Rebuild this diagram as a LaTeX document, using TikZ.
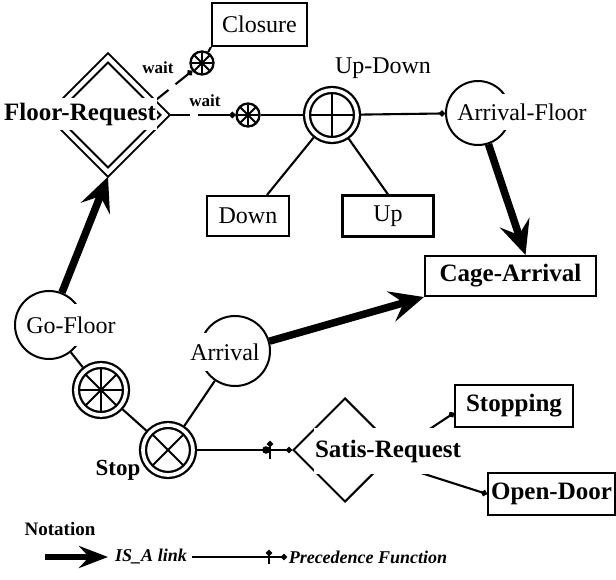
\documentclass[tikz,border=0pt]{standalone}
\usepackage{fontspec}
\setmainfont{Liberation Serif}
\usetikzlibrary{arrows.meta,shapes.geometric,calc,decorations.markings}
\newcommand\dgReg{\fontsize{24}{28}\selectfont}
\newcommand\dgBold{\fontsize{25}{29}\selectfont\bfseries}
\newcommand\dgWait{\fontsize{17}{20}\selectfont\bfseries}
\newcommand\dgLeg{\fontsize{18}{21}\selectfont\bfseries\itshape}
\begin{document}
\begin{tikzpicture}[x=1pt,y=-1pt]
\tikzset{
  every node/.style={font=\dgReg},
  box/.style={draw, line width=2.1pt, inner sep=0pt},
  dblc/.style={circle, draw, line width=2.3pt, double, double distance=3.7pt, minimum size=50pt, inner sep=0pt, outer sep=4pt},
  ring/.style={circle, draw, line width=2pt, inner sep=0pt},
  txtbg/.style={fill=white, inner xsep=2pt},
  conn/.style={line width=2.1pt},
  dot/.style={conn, -{Circle[length=6pt]}},
  isa/.style={line width=7.5pt, -{Stealth[length=34pt,width=31pt,inset=13pt]}},
  prec/.style={dot, postaction={decorate}, decoration={markings,
      mark=at position -18pt with {\draw[line width=2.1pt] (0,-7pt) -- (0,7pt);}}},
  precmain/.style={dot, postaction={decorate}, decoration={markings,
      mark=at position -26pt with {\fill (0,0) circle (3.8pt);},
      mark=at position -22pt with {\draw[line width=2.1pt] (0,-9pt) -- (0,9pt);}}},
  waitsym/.style={circle, draw, line width=2.3pt, minimum size=23pt, inner sep=0pt},
  spoke/.style={line width=2pt},
}
\useasboundingbox (0,0) rectangle (616,580);

% ---- nodes ----
\node[box, minimum width=95pt, minimum height=43pt] (CL) at (259.5,24.5) {Closure};
\node[diamond, draw, line width=2pt, double, double distance=4.4pt,
      minimum width=117pt, minimum height=117pt, inner sep=0pt, outer sep=3.2pt] (FR) at (108,115) {};
\node[waitsym] (W1) at (202,63) {};
\node[waitsym] (W2) at (248,115) {};
\node[dblc] (UD) at (332,115) {};
\node (UDl) at (383,68) {Up-Down};
\node[ring, minimum size=64pt] (AF) at (478,113) {};
\node[box, minimum width=82pt, minimum height=40pt] (DN) at (248,216) {Down};
\node[box, minimum width=91pt, minimum height=41pt] (UP) at (388,216) {Up};
\node[box, minimum width=171pt, minimum height=40pt, font=\dgBold] (CA) at (510.5,276) {Cage-Arrival};
\node[ring, minimum size=68pt] (GF) at (49,325) {};
\node[dblc] (WH) at (101,390) {};
\node[dblc] (ST) at (168,450) {};
\node[font=\fontsize{23}{27}\selectfont\bfseries] (STl) at (118,470) {Stop};
\node[ring, minimum size=70pt] (AR) at (235,351) {};
\node[diamond, draw, line width=2pt, minimum width=104pt, minimum height=104pt, inner sep=0pt] (SR) at (345,450) {};
\node[box, minimum width=118pt, minimum height=42pt, font=\dgBold] (STP) at (514,406) {Stopping};
\node[box, minimum width=127pt, minimum height=42pt, font=\dgBold] (OD) at (551.5,494) {Open-Door};

% ---- symbols inside the special nodes ----
\foreach \a in {0,90} \draw[spoke] (UD.center) ++(\a:21) -- ++(\a+180:42);
\foreach \a in {45,135} \draw[spoke] (ST.center) ++(\a:21) -- ++(\a+180:42);
\foreach \a in {0,45,90,135} \draw[spoke] (WH.center) ++(\a:21) -- ++(\a+180:42);
\foreach \a in {0,45,90,135} {
  \draw[spoke] (W1.center) ++(\a:10.3) -- ++(\a+180:20.6);
  \draw[spoke] (W2.center) ++(\a:10.3) -- ++(\a+180:20.6);
}

% ---- connectors ----
\draw[conn, dash pattern=on 17pt off 9pt on 200pt, -{Circle[length=6pt]}] (FR.17) -- (W1);
\draw[conn, dash pattern=on 20pt off 8pt on 200pt, -{Circle[length=6pt]}] (FR.east) -- (W2);
\node[font=\dgWait] (WL1) at (158,68) {wait};
\node[font=\dgWait] (WL2) at (205,101) {wait};
\draw[conn] (W1) -- (CL.south west);
\draw[conn] (W2) -- (UD);
\draw[dot] (UD) -- (AF);
\draw[conn] (UD) -- ($(DN.north)+(19,0)$);
\draw[conn] (UD) -- (UP.north);
\draw[isa] (AF) -- ($(CA.north)+(15,0)$);
\draw[isa] (AR) -- (CA.south west);
\draw[isa] (GF) -- (FR.south);
\draw[conn] (GF) -- (WH);
\draw[conn] (WH) -- (ST);
\draw[conn] (ST) -- (AR);
\draw[precmain] (ST) -- (SR);
\draw[dot] (SR.east) -- ([yshift=-7pt]STP.west);
\draw[dot] (SR.-16) -- (OD.west);

% ---- labels with white backing ----
\node[txtbg, inner xsep=1pt, inner ysep=5pt, font=\dgBold] (FRt) at (80,114) {Floor-Request};
\node[txtbg, inner ysep=10pt] (AFt) at (522,112) {Arrival-Floor};
\node[txtbg, inner ysep=13pt] (GFt) at (71,325) {Go-Floor};
\node[txtbg, inner ysep=11pt] (ARt) at (225,352) {Arrival};
\node[txtbg, inner xsep=1pt, inner ysep=12pt, font=\dgBold] (SRt) at (388,451) {Satis-Request};

% ---- notation ----
\node[font=\fontsize{19}{22}\selectfont\bfseries] (NT) at (60,529) {Notation};
\coordinate (L1) at (45,557);
\coordinate (L2) at (108,557);
\draw[line width=5.5pt, -{Stealth[length=29pt,width=22pt,inset=10pt]}] (L1) -- (L2);
\node[font=\dgLeg] (ISA) at (151,557) {IS\_A link};
\coordinate (L3) at (192,557);
\coordinate (L4) at (287,557);
\draw[prec] (L3) -- (L4);
\node[font=\dgLeg] (PF) at (368,557) {Precedence Function};
\end{tikzpicture}
\end{document}
